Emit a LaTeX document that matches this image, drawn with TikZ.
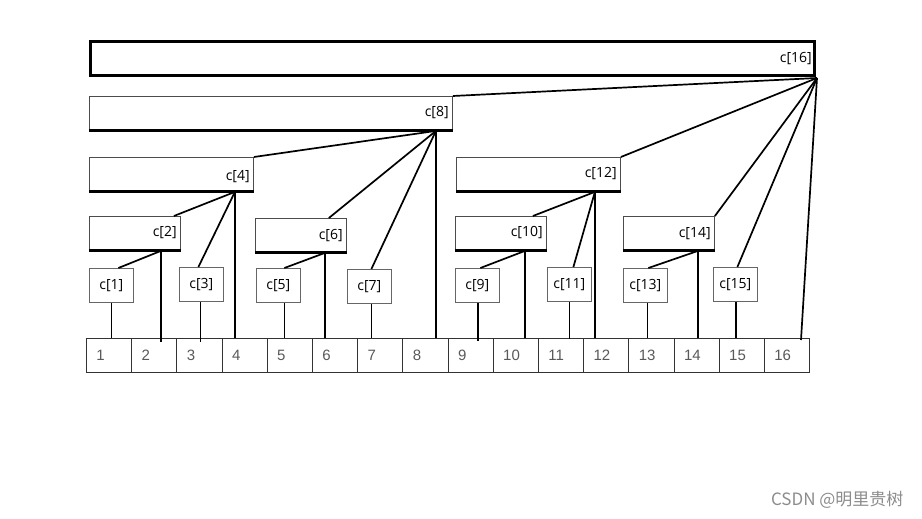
\documentclass[tikz,border=0pt]{standalone}
\usepackage{fontspec}
\setmainfont{Open Sans}
\newfontfamily\numfont{Liberation Sans}
\newfontfamily\cjkfont{Noto Sans CJK SC}
\usetikzlibrary{calc}

\begin{document}
\begin{tikzpicture}[
    x=1pt, y=-1pt,
    topbox/.style={draw=black, line width=3pt, anchor=north west, minimum height=34pt, inner sep=0pt},
    midbox/.style={draw=black!70, line width=0.9pt, anchor=north west, minimum height=34pt, inner sep=0pt},
    tag/.style={anchor=east, inner sep=0pt, font=\fontsize{14}{16}\selectfont},
    smallbox/.style={draw=black!60, line width=0.8pt, anchor=north west, minimum width=44pt, minimum height=34pt, inner sep=0pt, font=\fontsize{14}{16}\selectfont},
    cell/.style={draw=black!80, line width=0.8pt, anchor=north west, minimum width=45.2pt, minimum height=34pt, inner xsep=10pt, text width=25.2pt, align=left, text=black!65, font=\numfont\fontsize{15}{17}\selectfont},
    botline/.style={line width=3pt},
    link/.style={line width=1.7pt, draw=black}
]
    \useasboundingbox (0,0) rectangle (922,519);

    % ==================== TREE NODES ====================
    % Level 16 / 8
    \node[topbox, minimum width=724pt] (c16) at (89,40) {};
    \node[midbox, minimum width=363pt] (c8) at (89,96) {};

    % Level 4
    \node[midbox, minimum width=164pt] (c4) at (89,157) {};
    \node[midbox, minimum width=164pt] (c12) at (456,157) {};

    % Level 2
    \node[midbox, minimum width=91pt] (c2) at (89,216) {};
    \node[midbox, minimum width=91pt] (c6) at (255,218) {};
    \node[midbox, minimum width=91pt] (c10) at (455,216) {};
    \node[midbox, minimum width=91pt] (c14) at (623,216) {};

    % Thick bottom edges
    \draw[botline] (c8.south west) -- (c8.south east);
    \draw[botline] (c4.south west) -- (c4.south east);
    \draw[botline] (c12.south west) -- (c12.south east);
    \draw[botline] (c2.south west) -- (c2.south east);
    \draw[botline] (c6.south west) -- (c6.south east);
    \draw[botline] (c10.south west) -- (c10.south east);
    \draw[botline] (c14.south west) -- (c14.south east);

    % Labels, flush right
    \node[tag] (t16) at ([xshift=-4pt]c16.east) {c[16]};
    \node[tag] (t8) at ([xshift=-4pt,yshift=1pt]c8.east) {c[8]};
    \node[tag] (t4) at ([xshift=-4pt,yshift=-2pt]c4.east) {c[4]};
    \node[tag] (t12) at ([xshift=-4pt,yshift=1pt]c12.east) {c[12]};
    \node[tag] (t2) at ([xshift=-4pt,yshift=1pt]c2.east) {c[2]};
    \node[tag] (t6) at ([xshift=-4pt]c6.east) {c[6]};
    \node[tag] (t10) at ([xshift=-4pt,yshift=1pt]c10.east) {c[10]};
    \node[tag] (t14) at ([xshift=-4pt]c14.east) {c[14]};

    % Level 1
    \node[smallbox] (c1) at (89,268) {c[1]};
    \node[smallbox] (c3) at (179,267) {c[3]};
    \node[smallbox] (c5) at (256,268) {c[5]};
    \node[smallbox] (c7) at (347,269) {c[7]};
    \node[smallbox] (c9) at (455,268) {c[9]};
    \node[smallbox] (c11) at (547,267) {c[11]};
    \node[smallbox] (c13) at (623,268) {c[13]};
    \node[smallbox] (c15) at (713,267) {c[15]};

    % ==================== ARRAY ====================
    \node[cell] (n1) at (86,338) {1};
    \node[cell] (n2) at (131.2,338) {2};
    \node[cell] (n3) at (176.4,338) {3};
    \node[cell] (n4) at (221.6,338) {4};
    \node[cell] (n5) at (266.8,338) {5};
    \node[cell] (n6) at (312,338) {6};
    \node[cell] (n7) at (357.2,338) {7};
    \node[cell] (n8) at (402.4,338) {8};
    \node[cell] (n9) at (447.6,338) {9};
    \node[cell] (n10) at (492.8,338) {10};
    \node[cell] (n11) at (538,338) {11};
    \node[cell] (n12) at (583.2,338) {12};
    \node[cell] (n13) at (628.4,338) {13};
    \node[cell] (n14) at (673.6,338) {14};
    \node[cell] (n15) at (718.8,338) {15};
    \node[cell] (n16) at (764,338) {16};

    % ==================== LINKS ====================
    % Ports on the bottom edges
    \coordinate (c16p) at ([xshift=1pt,yshift=-1pt]c16.south east);
    \coordinate (c8p) at ([xshift=-17pt]c8.south east);
    \coordinate (c4p) at ([xshift=-19pt]c4.south east);
    \coordinate (c12p) at ([xshift=-26pt]c12.south east);
    \coordinate (c2p) at ([xshift=-20pt]c2.south east);
    \coordinate (c6p) at ([xshift=-22pt]c6.south east);
    \coordinate (c10p) at ([xshift=-22pt]c10.south east);
    \coordinate (c14p) at ([xshift=-17pt]c14.south east);
    \coordinate (c1p) at (c1.south);
    \coordinate (c3p) at ([xshift=-1pt]c3.south);
    \coordinate (c5p) at ([xshift=6pt]c5.south);
    \coordinate (c7p) at ([xshift=2pt]c7.south);
    \coordinate (c9p) at ([xshift=0.5pt]c9.south);
    \coordinate (c11p) at (c11.south);
    \coordinate (c13p) at ([xshift=2pt]c13.south);
    \coordinate (c15p) at ([xshift=0.5pt]c15.south);

    % c[16]
    \draw[link] (c16p) -- (c8.north east);
    \draw[link] (c16p) -- (c12.north east);
    \draw[link] (c16p) -- (c14.north east);
    \draw[link] (c16p) -- ([xshift=2pt]c15.north);
    \draw[link] (c16p) -- ([xshift=14pt,yshift=-2pt]n16.north);

    % c[8]
    \draw[link] (c8p) -- (c4.north east);
    \draw[link] (c8p) -- ([xshift=-18pt]c6.north east);
    \draw[link] (c8p) -- ([xshift=2pt]c7.north);
    \draw[link] (c8p) -- (c8p |- n8.north);

    % c[4] and c[12]
    \draw[link] (c4p) -- ([xshift=-7pt]c2.north east);
    \draw[link] (c4p) -- ([xshift=-3pt]c3.north);
    \draw[link] (c4p) -- (c4p |- n4.north);
    \draw[link] (c12p) -- ([xshift=-14pt]c10.north east);
    \draw[link] (c12p) -- ([xshift=4pt]c11.north);
    \draw[link] (c12p) -- (c12p |- n12.north);

    % c[2], c[6], c[10], c[14]
    \draw[link] (c2p) -- ([xshift=7pt]c1.north);
    \draw[link] (c2p) -- ($(c2p |- n2.north)+(0,4)$);
    \draw[link] (c6p) -- ([xshift=6pt]c5.north);
    \draw[link] (c6p) -- (c6p |- n6.north);
    \draw[link] (c10p) -- ([xshift=3pt]c9.north);
    \draw[link] (c10p) -- (c10p |- n10.north);
    \draw[link] (c14p) -- ([xshift=3pt]c13.north);
    \draw[link] (c14p) -- (c14p |- n14.north);

    % odd leaves
    \draw[link] (c1p) -- (c1p |- n1.north);
    \draw[link] (c3p) -- ($(c3p |- n3.north)+(0,4)$);
    \draw[link] (c5p) -- (c5p |- n5.north);
    \draw[link] (c7p) -- (c7p |- n7.north);
    \draw[link] (c9p) -- ($(c9p |- n9.north)+(0,3)$);
    \draw[link] (c11p) -- ($(c11p |- n11.north)+(0,1)$);
    \draw[link] (c13p) -- (c13p |- n13.north);
    \draw[link] (c15p) -- (c15p |- n15.north);

    % watermark
    \node[text=black!45, font=\cjkfont\fontsize{17}{19}\selectfont, anchor=east] (wm) at (907,500) {CSDN @明里贵树};

\end{tikzpicture}
\end{document}
